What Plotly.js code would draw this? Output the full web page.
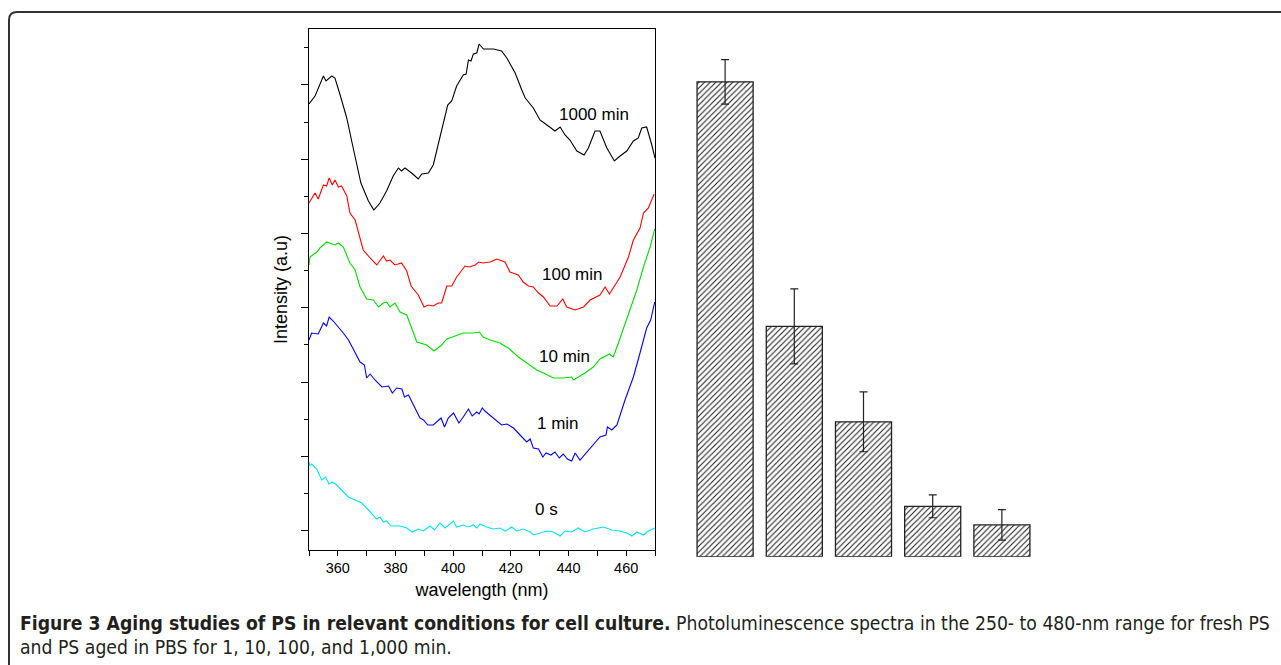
<!DOCTYPE html>
<html>
<head>
<meta charset="utf-8">
<script src="https://cdn.plot.ly/plotly-3.0.1.min.js"></script>
<style>
html,body{margin:0;padding:0;background:#fff;}
#chart{width:1281px;height:665px;}
</style>
</head>
<body>
<div id="chart"></div>
<script>
// ---- Spectra (wavelength in nm, intensity in a.u.) ----
const wl1000 = [350.0,352.1,355.0,355.9,357.9,359.0,360.8,363.1,364.8,366.5,368.0,370.6,372.5,374.6,376.9,379.2,381.0,382.1,383.3,385.6,387.9,389.1,391.4,393.1,395.4,398.1,399.5,401.2,403.5,404.5,405.3,406.2,407.0,408.2,409.0,410.5,414.0,416.8,418.6,421.5,423.8,425.0,427.8,430.1,433.0,435.3,437.1,438.8,440.5,442.9,445.4,446.9,449.2,450.9,453.3,455.9,457.9,460.2,462.5,464.2,465.4,467.1,468.9,470.0];
const int1000 = [446,454,474,469,474,472,455,432,409,385,367,349,340,347,359,374,382,379,382,377,371,376,377,385,412,445,449,464,475,476,490,489,496,497,506,501,501,499,492,477,460,452,442,430,424,419,423,415,410,399,395,402,419,419,402,389,394,399,409,412,422,423,405,392];

const wl100 = [350.0,352.1,353.2,355.0,356.1,357.0,358.1,359.0,360.2,361.3,363.1,364.2,366.0,368.8,371.2,373.5,375.8,376.9,378.1,379.8,382.1,383.9,385.4,387.9,389.9,391.4,393.1,394.8,396.0,397.8,399.5,401.2,404.1,405.8,407.6,408.9,410.4,412.8,415.1,418.0,419.7,422.6,424.3,426.1,427.8,429.6,431.3,433.6,436.0,438.0,439.4,442.3,445.2,447.5,450.9,452.7,454.2,457.9,460.8,462.5,464.8,466.0,467.7,469.7];
const int100 = [347,357,351,365,364,372,365,370,363,364,354,337,330,300,292,285,294,289,290,285,287,279,264,255,243,245,244,247,247,264,264,273,284,283,285,288,287,288,291,288,278,275,268,264,263,257,253,244,244,251,243,240,243,250,255,263,256,273,293,310,322,337,342,356];

const wl10 = [350.0,350.3,352.7,353.8,356.1,357.3,359.0,360.2,361.9,364.2,366.0,367.7,370.0,372.3,374.1,375.8,376.9,378.1,379.8,381.6,383.9,387.4,390.8,393.4,396.0,397.8,399.8,403.5,407.0,409.1,410.4,412.8,416.2,419.1,422.6,425.5,429.0,431.3,434.8,438.2,441.1,441.7,445.7,448.6,450.9,454.2,455.5,457.3,460.8,463.7,466.0,468.3,469.9];
const int10 = [285,293,298,302,308,307,305,307,303,287,280,263,251,250,243,247,248,243,247,238,235,208,205,199,205,211,213,217,217,218,213,210,207,202,193,187,180,177,172,172,173,170,177,183,191,196,193,207,235,260,283,303,321];

const wl1 = [350.0,350.9,353.2,355.0,356.1,357.0,358.4,360.2,361.9,363.7,366.0,367.7,369.2,370.0,371.2,372.9,375.3,377.6,378.9,380.4,382.2,383.1,384.5,386.2,388.5,389.7,391.2,393.1,395.8,397.0,398.3,400.1,402.0,403.5,405.3,406.6,408.2,409.0,410.1,411.0,413.9,416.8,418.6,420.9,423.2,425.5,426.7,427.8,429.6,431.1,432.2,433.9,435.3,436.8,438.2,439.6,441.1,442.3,444.0,446.3,449.2,450.9,453.0,453.5,455.0,456.8,459.6,462.5,464.8,467.1,468.5,469.9];
const int1 = [210,217,216,227,224,233,229,223,217,210,197,188,185,172,176,170,163,164,157,162,161,153,155,145,132,130,125,125,132,123,132,137,127,133,141,134,138,136,142,139,132,125,126,122,115,108,111,102,101,93,97,95,98,92,96,91,89,97,90,98,107,113,115,123,120,125,150,173,197,222,230,248];

const wl0 = [350.0,350.3,350.9,352.7,354.4,355.8,356.9,358.1,359.6,361.3,363.6,366.0,368.3,370.6,372.3,373.5,374.6,375.8,376.9,378.4,381.6,383.9,385.8,387.9,389.7,392.0,393.5,395.4,397.2,400.1,401.2,403.5,405.3,407.0,408.2,409.3,411.6,413.9,416.2,418.0,420.3,422.0,424.3,426.7,427.8,430.1,432.4,434.7,437.1,438.8,441.1,443.4,445.7,448.6,452.1,455.0,457.9,460.2,462.0,463.7,466.0,467.7,469.9];
const int0 = [88,84,86,81,70,73,66,68,65,60,53,50,47,40,35,31,33,28,29,24,24,22,18,21,19,24,20,27,22,29,23,25,23,25,22,26,23,21,22,19,23,19,21,18,15,17,19,18,14,19,18,22,18,21,23,20,19,17,14,18,15,19,22];

const seriesNames = ["1000 min","100 min","10 min","1 min","0 s"];
const seriesColors = ["#000000","#ff0000","#00dd00","#0000ff","#00e5ee"];
const labelX = [448.9,441.2,438.6,436.5,432.4];
const labelY = [436,276,194,126.5,41];

// ---- Bar panel (relative intensity) ----
const barCats = ["b1","b2","b3","b4","b5"];
const barVals = [100,48.5,28.4,10.6,6.7];
const barErr  = [4.7,7.9,6.3,2.4,3.2];

const xTickVals = [360,380,400,420,440,460];

const FONT = "'Liberation Sans', Arial, sans-serif";
const CAPFONT = "'Liberation Sans Narrow', 'DejaVu Sans Condensed', 'Arial Narrow', sans-serif";

const wls = [wl1000,wl100,wl10,wl1,wl0];
const ints = [int1000,int100,int10,int1,int0];

const traces = [];
for (let i=0;i<5;i++){
  traces.push({
    type:'scatter', mode:'lines', x:wls[i], y:ints[i], name:seriesNames[i],
    line:{color:seriesColors[i], width:1.1}, xaxis:'x', yaxis:'y', hoverinfo:'skip'
  });
}
traces.push({
  type:'bar', x:barCats, y:barVals, xaxis:'x2', yaxis:'y2', width:0.81,
  marker:{color:'#ffffff', line:{color:'#222222', width:1.3},
          pattern:{shape:'/', fgcolor:'#222222', bgcolor:'#ffffff', size:4, solidity:0.28}},
  error_y:{type:'data', array:barErr, visible:true, color:'#222222', thickness:1.2, width:4},
  hoverinfo:'skip'
});

const W=1281, H=665;
const annotations = [];
for (let i=0;i<5;i++){
  annotations.push({xref:'x', yref:'y', x:labelX[i], y:labelY[i], text:seriesNames[i],
    showarrow:false, xanchor:'center', yanchor:'middle', font:{family:FONT, size:17, color:'#000'}});
}
annotations.push({xref:'paper', yref:'paper', x:18/W, y:1-623/H, xanchor:'left', yanchor:'middle',
  showarrow:false, align:'left',
  text:'<b>Figure 3 Aging studies of PS in relevant conditions for cell culture.</b> Photoluminescence spectra in the 250- to 480-nm range for fresh PS',
  font:{family:CAPFONT, size:19.2, color:'#231f20'}});
annotations.push({xref:'paper', yref:'paper', x:18/W, y:1-647/H, xanchor:'left', yanchor:'middle',
  showarrow:false, align:'left',
  text:'and PS aged in PBS for 1, 10, 100, and 1,000 min.',
  font:{family:CAPFONT, size:19.2, color:'#231f20'}});

const px = v => v/W, py = v => 1-v/H;

const layout = {
  width:W, height:H, margin:{l:0,r:0,t:0,b:0}, showlegend:false,
  paper_bgcolor:'#fff', plot_bgcolor:'rgba(0,0,0,0)',
  font:{family:FONT, color:'#000'},
  xaxis:{domain:[px(309),px(655)], range:[350,470], showgrid:false, zeroline:false,
    showline:true, linecolor:'#000', linewidth:1, mirror:true,
    ticks:'outside', ticklen:5, tickcolor:'#000', tickwidth:1,
    tickmode:'array', tickvals:xTickVals, ticktext:xTickVals.map(String),
    minor:{ticks:'outside', ticklen:5, tickcolor:'#000', dtick:10, tick0:350, showgrid:false},
    tickfont:{family:FONT, size:14.5, color:'#000'},
    title:{text:'wavelength (nm)', font:{family:FONT, size:18, color:'#000'}, standoff:7}},
  yaxis:{domain:[py(550),py(29)], range:[0,521], showgrid:false, zeroline:false,
    showline:true, linecolor:'#000', linewidth:1, mirror:true,
    ticks:'outside', ticklen:7, tickcolor:'#000', tickwidth:1,
    tick0:19.3, dtick:74.3, showticklabels:false,
    minor:{ticks:'outside', ticklen:4, tickcolor:'#000', dtick:37.15, tick0:19.3, showgrid:false},
    title:{text:'Intensity (a.u)', font:{family:FONT, size:18, color:'#000'}, standoff:8}},
  xaxis2:{domain:[px(690.5),px(1036.5)], range:[-0.5,4.5], visible:false, anchor:'y2',
    type:'category'},
  yaxis2:{domain:[py(556.7),py(56.7)], range:[0,105.3], visible:false, anchor:'x2'},
  annotations:annotations,
  shapes:[{type:'path', xref:'paper', yref:'paper',
    path:`M ${px(9)},${py(700)} L ${px(9)},${py(20)} Q ${px(9)},${py(12)} ${px(17)},${py(12)} L ${px(1300)},${py(12)}`,
    line:{color:'#333', width:2}}]
};

Plotly.newPlot('chart', traces, layout, {staticPlot:true, displayModeBar:false});
</script>
</body>
</html>
